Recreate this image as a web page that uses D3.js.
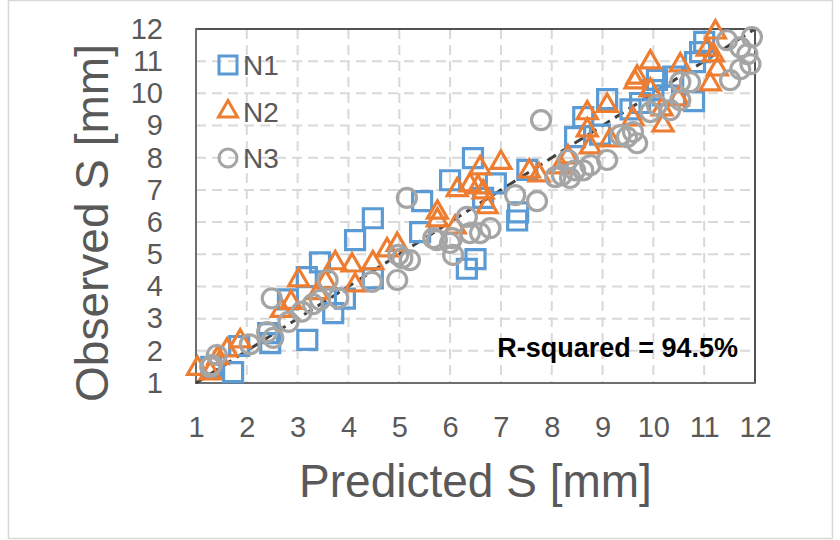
<!DOCTYPE html>
<html>
<head>
<meta charset="utf-8">
<script src="https://cdnjs.cloudflare.com/ajax/libs/d3/7.8.5/d3.min.js"></script>
<style>
  html, body { margin: 0; padding: 0; background: #fff; }
  svg text { font-family: Arial, "Liberation Sans", sans-serif; }
</style>
</head>
<body>
<div id="chart"></div>
<script>
(function () {
  'use strict';

  // [predicted, observed] pairs
  var seriesN1 = [
    [1.3, 1.5], [1.73, 1.34], [1.85, 2.15], [2.42, 2.55], [2.46, 2.24],
    [2.81, 3.6], [3.19, 2.34], [3.18, 4.29], [3.44, 4.75], [3.7, 3.17],
    [3.93, 3.62], [4.13, 5.44], [4.48, 6.12], [4.48, 4.25], [5.41, 5.69],
    [5.45, 6.65], [6.0, 7.3], [6.45, 7.99], [6.33, 4.55], [6.5, 4.85],
    [6.65, 6.75], [6.9, 7.2], [7.34, 6.3], [7.32, 6.05], [7.52, 7.62],
    [8.46, 8.64], [8.62, 9.26], [8.95, 8.72], [9.09, 9.82], [9.55, 9.5],
    [9.74, 9.7], [10.0, 10.1], [10.07, 10.42], [10.39, 10.52], [10.19, 9.94],
    [10.8, 9.76], [10.82, 10.97], [10.92, 11.28], [11.0, 11.6]
  ];

  var seriesN2 = [
    [1.03, 1.45], [1.28, 1.31], [1.43, 1.78], [1.61, 2.02], [1.87, 2.3],
    [2.68, 3.25], [2.87, 3.5], [3.02, 4.2], [3.4, 3.8], [3.55, 4.14],
    [3.74, 4.73], [4.07, 4.66], [4.13, 4.04], [4.48, 4.73], [4.76, 5.13],
    [4.96, 5.3], [5.75, 6.3], [5.75, 6.06], [6.1, 5.84], [6.14, 7.0],
    [6.39, 7.15], [6.59, 7.68], [6.55, 7.09], [6.65, 6.93], [6.73, 6.47],
    [7.0, 7.85], [7.56, 7.58], [7.75, 7.46], [8.17, 7.71], [8.32, 8.02],
    [8.7, 9.39], [8.7, 8.86], [8.76, 8.33], [9.09, 9.62], [9.15, 8.55],
    [9.6, 9.2], [9.64, 10.35], [9.68, 10.5], [9.94, 10.97], [9.94, 10.1],
    [10.17, 9.51], [10.19, 9.01], [10.49, 9.82], [10.53, 10.88], [11.06, 11.37],
    [11.12, 10.29], [11.18, 11.19], [11.22, 11.9], [11.26, 10.75]
  ];

  var seriesN3 = [
    [1.28, 1.5], [1.31, 1.56], [1.41, 1.87], [2.06, 2.2], [2.4, 2.58],
    [2.52, 2.4], [2.49, 3.63], [2.82, 2.9], [3.08, 3.22], [3.3, 3.45],
    [3.44, 3.58], [3.59, 4.2], [3.8, 3.64], [4.46, 4.14], [4.96, 4.2],
    [4.98, 4.98], [5.06, 4.88], [5.21, 4.82], [5.15, 6.75], [5.67, 5.5],
    [5.74, 5.44], [6.0, 5.35], [6.04, 5.5], [6.06, 4.98], [6.33, 6.16],
    [6.39, 5.66], [6.59, 5.66], [6.79, 5.81], [7.28, 6.84], [7.71, 6.65],
    [7.79, 9.17], [8.07, 7.4], [8.2, 7.46], [8.32, 7.93], [8.36, 7.37],
    [8.46, 7.61], [8.62, 7.61], [8.76, 7.77], [9.09, 7.93], [9.35, 8.7],
    [9.48, 8.64], [9.6, 8.8], [9.68, 8.45], [9.94, 9.42], [10.07, 9.63],
    [10.33, 9.48], [10.53, 9.79], [10.53, 10.35], [10.72, 10.35], [11.45, 11.65],
    [11.51, 10.41], [11.71, 11.43], [11.71, 10.75], [11.85, 11.22], [11.91, 10.91],
    [11.94, 11.75]
  ];

  var ticks = [1, 2, 3, 4, 5, 6, 7, 8, 9, 10, 11, 12];
  var seriesNames = ['N1', 'N2', 'N3'];
  var rSquared = 'R-squared = 94.5%';

  var W = 840, H = 540,
      left = 196, right = 755, top = 29, bottom = 383,
      textColor = '#595959',
      colors = { N1: '#5B9BD5', N2: '#ED7D31', N3: '#A5A5A5' },
      shapes = { N1: d3.symbolSquare, N2: d3.symbolTriangle, N3: d3.symbolCircle },
      sizes = { N1: 19 * 19, N2: Math.sqrt(3) / 4 * 20 * 20, N3: Math.PI * 9.5 * 9.5 },
      data = { N1: seriesN1, N2: seriesN2, N3: seriesN3 };

  var x = d3.scaleLinear().domain([1, 12]).range([left, right]);
  var y = d3.scaleLinear().domain([1, 12]).range([bottom, top]);

  var svg = d3.select('#chart').append('svg')
    .attr('width', W)
    .attr('height', H);

  // outer chart border
  svg.append('rect')
    .attr('x', 8.5).attr('y', 0.5)
    .attr('width', 824).attr('height', 538)
    .attr('fill', '#fff')
    .attr('stroke', '#D9D9D9')
    .attr('stroke-width', 1.5);

  // dashed grid
  var grid = svg.append('g').attr('class', 'grid')
    .attr('stroke', '#D9D9D9')
    .attr('stroke-width', 2)
    .attr('stroke-dasharray', '10,6');

  grid.selectAll('line.v')
    .data(ticks.slice(1, -1))
    .enter().append('line')
      .attr('class', 'v')
      .attr('x1', function (d) { return x(d); })
      .attr('x2', function (d) { return x(d); })
      .attr('y1', top)
      .attr('y2', bottom);

  grid.selectAll('line.h')
    .data(ticks.slice(1, -1))
    .enter().append('line')
      .attr('class', 'h')
      .attr('x1', left)
      .attr('x2', right)
      .attr('y1', function (d) { return y(d); })
      .attr('y2', function (d) { return y(d); });

  // plot frame
  svg.append('rect')
    .attr('x', left).attr('y', top)
    .attr('width', right - left).attr('height', bottom - top)
    .attr('fill', 'none')
    .attr('stroke', '#1a1a1a')
    .attr('stroke-width', 1.5);

  svg.append('path')
    .attr('d', 'M' + left + ',' + top + 'V' + bottom + 'H' + right)
    .attr('fill', 'none')
    .attr('stroke', '#6e6e6e')
    .attr('stroke-width', 2);

  // axes: labels only, no tick marks
  var xAxis = svg.append('g')
    .attr('transform', 'translate(0,' + bottom + ')')
    .call(d3.axisBottom(x).tickValues(ticks).tickSize(0).tickPadding(33));
  var yAxis = svg.append('g')
    .attr('transform', 'translate(' + (left - 33) + ',0)')
    .call(d3.axisLeft(y).tickValues(ticks).tickSize(0).tickPadding(0));

  [xAxis, yAxis].forEach(function (g) {
    g.select('.domain').remove();
    g.selectAll('text')
      .attr('fill', textColor)
      .style('font-size', '29px')
      .style('font-family', 'Arial, "Liberation Sans", sans-serif');
  });
  xAxis.selectAll('text').attr('dy', '0.71em');

  // 1:1 reference line
  svg.append('line')
    .attr('x1', x(1)).attr('y1', y(1))
    .attr('x2', x(12)).attr('y2', y(12))
    .attr('stroke', '#404040')
    .attr('stroke-width', 3)
    .attr('stroke-dasharray', '10,6');

  // markers
  seriesNames.forEach(function (name) {
    var sym = d3.symbol().type(shapes[name]).size(sizes[name]);
    svg.append('g').attr('class', 'series-' + name)
      .selectAll('path')
      .data(data[name])
      .enter().append('path')
        .attr('d', sym)
        .attr('transform', function (d) {
          return 'translate(' + x(d[0]) + ',' + y(d[1]) + ')';
        })
        .attr('fill', 'none')
        .attr('stroke', colors[name])
        .attr('stroke-width', 3.2);
  });

  // legend
  var legend = svg.append('g').attr('class', 'legend');
  seriesNames.forEach(function (name, i) {
    var cy = 65 + i * 46.5;
    legend.append('path')
      .attr('d', d3.symbol().type(shapes[name]).size(sizes[name] * 0.9)())
      .attr('transform', 'translate(228,' + cy + ')')
      .attr('fill', 'none')
      .attr('stroke', colors[name])
      .attr('stroke-width', 3);
    legend.append('text')
      .attr('x', 243)
      .attr('y', cy + 10)
      .attr('fill', textColor)
      .style('font-size', '28px')
      .text(name);
  });

  svg.append('text')
    .attr('x', 738)
    .attr('y', 357)
    .attr('text-anchor', 'end')
    .attr('fill', '#000')
    .style('font-size', '27px')
    .style('font-weight', 'bold')
    .text(rSquared);

  // axis titles
  svg.append('text')
    .attr('x', (left + right) / 2)
    .attr('y', 497)
    .attr('text-anchor', 'middle')
    .attr('fill', textColor)
    .style('font-size', '46px')
    .text('Predicted S [mm]');

  svg.append('text')
    .attr('transform', 'translate(108,' + ((top + bottom) / 2 + 17) + ') rotate(-90)')
    .attr('text-anchor', 'middle')
    .attr('fill', textColor)
    .style('font-size', '46px')
    .text('Observed S [mm]');
})();
</script>
</body>
</html>
